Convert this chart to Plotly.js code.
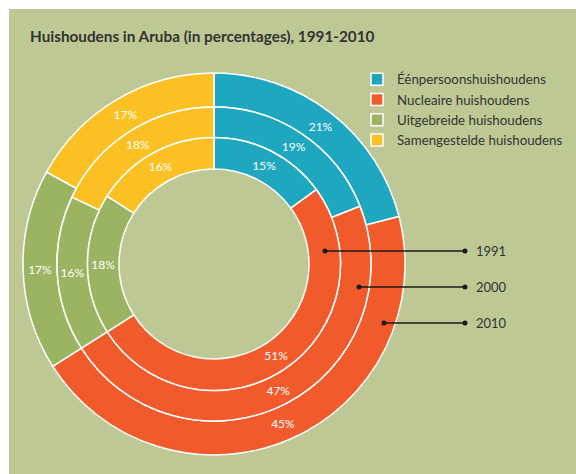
<!DOCTYPE html>
<html>
<head>
<meta charset="utf-8">
<script src="https://cdn.plot.ly/plotly-3.0.1.min.js"></script>
<style>
  html, body { margin: 0; padding: 0; background: #ffffff; }
  #chart { position: absolute; left: 9px; top: 9px; width: 567px; height: 465px; }
</style>
</head>
<body>
<div id="chart"></div>
<script>
// Data
const categories = ["Éénpersoonshuishoudens", "Nucleaire huishoudens", "Uitgebreide huishoudens", "Samengestelde huishoudens"];
const years = ["1991", "2000", "2010"];
const values1991 = [15, 51, 18, 16];
const values2000 = [19, 47, 16, 18];
const values2010 = [21, 45, 17, 17];
const colors = ["#1fa7c0", "#f15a2b", "#9bb462", "#fbc124"];

const W = 567, H = 465;
const cx = 205, cyBottom = 210; // pie centre within plot div (px from left / from bottom)
function dom(r) {
  return { x: [(cx - r) / W, (cx + r) / W], y: [(cyBottom - r) / H, (cyBottom + r) / H] };
}
function ring(vals, name, rOuter, rInner) {
  return {
    type: "pie",
    name: name,
    labels: categories,
    values: vals,
    sort: false,
    direction: "clockwise",
    rotation: 0,
    hole: rInner / rOuter,
    domain: dom(rOuter),
    marker: { colors: colors, line: { color: "#ffffff", width: 1.5 } },
    texttemplate: "%{value}%",
    textposition: "inside",
    insidetextorientation: "horizontal",
    textfont: { family: "Lato, sans-serif", size: 12, color: "#ffffff" },
    hoverinfo: "label+value",
    showlegend: true
  };
}
const traces = [
  ring(values2010, years[2], 191, 157),
  ring(values2000, years[1], 157, 126.5),
  ring(values1991, years[0], 126.5, 95)
];

// Leader lines for year labels (page px -> div px)
const leaders = [
  { y: 251, x0: 325 },
  { y: 287, x0: 359 },
  { y: 323, x0: 384 }
];
const xEnd = 465;
const shapes = [], annotations = [];
leaders.forEach((l, i) => {
  const yy = 1 - (l.y - 9) / H;
  const xa = (l.x0 - 9) / W, xb = (xEnd - 9) / W;
  shapes.push({ type: "line", xref: "paper", yref: "paper", x0: xa, x1: xb, y0: yy, y1: yy,
                line: { color: "#1a1a1a", width: 1.3 } });
  [xa, xb].forEach(px => {
    shapes.push({ type: "circle", xref: "paper", yref: "paper", xsizemode: "pixel", ysizemode: "pixel",
                  xanchor: px, yanchor: yy, x0: -2.5, x1: 2.5, y0: -2.5, y1: 2.5,
                  fillcolor: "#1a1a1a", line: { width: 0 } });
  });
  annotations.push({ xref: "paper", yref: "paper", x: (474 - 9) / W, y: yy, xanchor: "left", yanchor: "middle",
                     text: years[i], showarrow: false, font: { family: "Lato, sans-serif", size: 13, color: "#333333" } });
});

const layout = {
  width: W, height: H,
  margin: { l: 0, r: 0, t: 0, b: 0 },
  paper_bgcolor: "#bec894",
  plot_bgcolor: "#bec894",
  title: {
    text: "<b>Huishoudens in Aruba (in percentages), 1991-2010</b>",
    x: 21 / W, xanchor: "left", xref: "paper",
    y: 1 - 28 / H, yanchor: "middle", yref: "paper",
    font: { family: "Lato, sans-serif", size: 15.3, color: "#333333" }
  },
  legend: {
    x: (388 - 40) / W, xanchor: "left",
    y: 1 - 55 / H, yanchor: "top",
    bgcolor: "rgba(0,0,0,0)",
    font: { family: "Lato, sans-serif", size: 13.3, color: "#333333" },
    traceorder: "normal"
  },
  shapes: shapes,
  annotations: annotations,
  showlegend: true
};

Plotly.newPlot("chart", traces, layout, { displayModeBar: false, staticPlot: true });
</script>
</body>
</html>
